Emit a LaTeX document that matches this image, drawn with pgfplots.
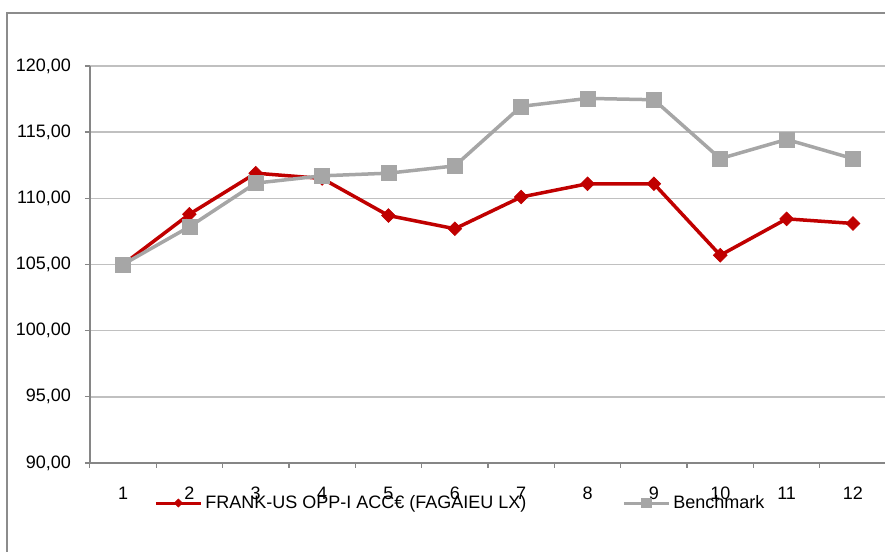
\documentclass[border=0pt]{standalone}
\usepackage{fontspec}
\setmainfont{Liberation Sans}
\usepackage{pgfplots}
\pgfplotsset{compat=1.18}
\definecolor{fundred}{RGB}{192,0,0}
\definecolor{benchgray}{RGB}{166,166,166}
\definecolor{gridgray}{RGB}{192,192,192}
\definecolor{axisgray}{RGB}{134,134,134}
\definecolor{framegray}{RGB}{140,140,140}
\begin{document}
\begin{tikzpicture}
\path[use as bounding box] (0,0) rectangle (531pt,331.2pt);
\draw[overlay, draw=framegray, line width=1.2pt] (4.2pt,-20pt) rectangle (560pt,323.4pt);
\begin{axis}[
  at={(53.9pt,53.4pt)}, anchor=south west,
  scale only axis, width=477.8pt, height=238.2pt,
  xmin=0.5, xmax=12.5, ymin=90, ymax=120,
  axis lines*=left,
  axis line style={draw=axisgray, line width=1pt, -},
  xtick={1,...,12},
  xticklabels={1,2,3,4,5,6,7,8,9,10,11,12},
  ytick={90,95,...,120},
  minor xtick={0.5,1.5,...,12.5},
  minor ytick={90,95,...,120},
  major tick length=0pt, minor tick length=3pt, tick align=outside,
  tick style={draw=axisgray, line width=0.8pt},
  ymajorgrids, xmajorgrids=false,
  major grid style={draw=gridgray, line width=0.9pt},
  /pgf/number format/assume math mode=true,
  ticklabel style={font=\fontsize{10.8}{13}\selectfont, text=black},
  x tick label style={yshift=-11.1pt},
  y tick label style={xshift=-7.8pt, /pgf/number format/.cd, fixed, fixed zerofill, precision=2, use comma, 1000 sep={}},
  legend columns=2,
  legend style={at={(axis description cs:0.0806,-0.1008)}, anchor=west, draw=none, fill=none, inner sep=0pt,
    font=\fontsize{10.8}{13}\selectfont, nodes={inner sep=0pt}},
  /tikz/every odd column/.append style={column sep=1.8pt},
  /tikz/every even column/.append style={column sep=57.6pt},
  legend image code/.code={\draw[mark repeat=2, mark phase=2, #1] plot coordinates {(0pt,0pt) (13.5pt,0pt) (27pt,0pt)};},
]
\addplot[color=fundred, line width=2.1pt, mark=square*, mark size=2.9pt,
  mark options={rotate=45, fill=fundred, line width=0.4pt},
  legend image post style={line width=1.8pt, mark size=1.7pt}]
  coordinates {(1,105.0) (2,108.8) (3,111.9) (4,111.5) (5,108.7) (6,107.7) (7,110.1) (8,111.1) (9,111.1) (10,105.7) (11,108.45) (12,108.1)};
\addlegendentry{FRANK-US OPP-I ACC€ (FAGAIEU LX)}
\addplot[color=benchgray, line width=2.1pt, mark=square*, mark size=4.5pt,
  mark options={fill=benchgray, line width=0.4pt},
  legend image post style={line width=1.8pt, mark size=2.8pt}]
  coordinates {(1,105.0) (2,107.85) (3,111.15) (4,111.7) (5,111.9) (6,112.45) (7,116.95) (8,117.55) (9,117.45) (10,113.0) (11,114.45) (12,113.0)};
\addlegendentry{Benchmark}
\end{axis}
\end{tikzpicture}
\end{document}
